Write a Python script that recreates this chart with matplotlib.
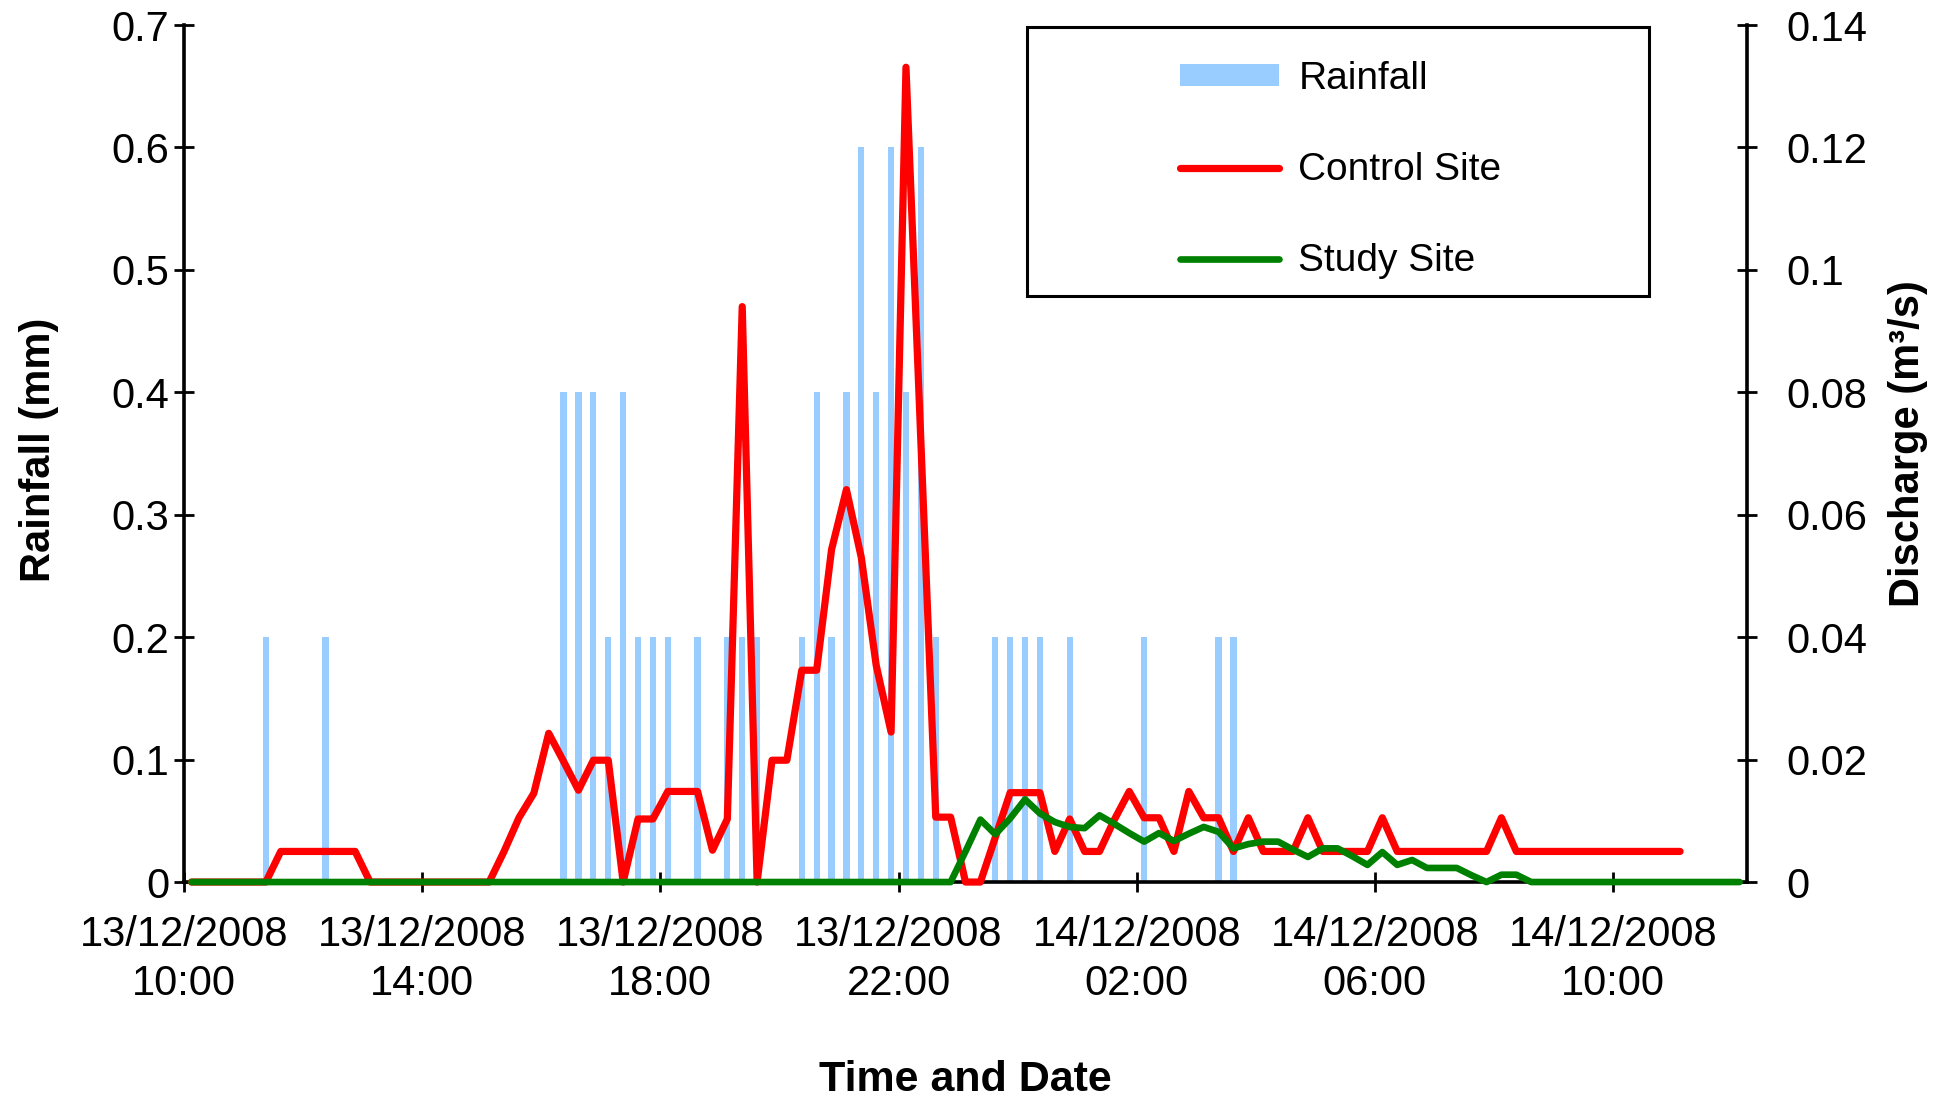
import matplotlib
matplotlib.use('Agg')
import matplotlib.pyplot as plt
import numpy as np
from matplotlib.patches import Rectangle

plt.rcParams['font.family'] = ['Liberation Sans', 'DejaVu Sans']

# Datos cada 15 minutos desde 13/12/2008 10:00 (105 categorias)
tick_labels = ['13/12/2008\n10:00', '13/12/2008\n14:00', '13/12/2008\n18:00',
               '13/12/2008\n22:00', '14/12/2008\n02:00', '14/12/2008\n06:00',
               '14/12/2008\n10:00']

# Lluvia (mm)
rainfall = [
    0, 0, 0, 0, 0, 0.2, 0, 0, 0, 0.2, 0, 0, 0, 0, 0, 0,
    0, 0, 0, 0, 0, 0, 0, 0, 0, 0.4, 0.4, 0.4, 0.2, 0.4, 0.2, 0.2,
    0.2, 0, 0.2, 0, 0.2, 0.2, 0.2, 0, 0, 0.2, 0.4, 0.2, 0.4, 0.6, 0.4, 0.6,
    0.4, 0.6, 0.2, 0, 0, 0, 0.2, 0.2, 0.2, 0.2, 0, 0.2, 0, 0, 0, 0,
    0.2, 0, 0, 0, 0, 0.2, 0.2, 0, 0, 0, 0, 0, 0, 0, 0, 0,
    0, 0, 0, 0, 0, 0, 0, 0, 0, 0, 0, 0, 0, 0, 0, 0,
    0, 0, 0, 0, 0, 0, 0, 0, 0,
]

# Caudal sitio control (m3/s)
control_site = [
    0, 0, 0, 0, 0, 0, 0.005, 0.005, 0.005, 0.005, 0.005, 0.005, 0, 0, 0, 0,
    0, 0, 0, 0, 0, 0.005, 0.0105, 0.0145, 0.0243, 0.0197, 0.015, 0.0199, 0.0199, 0, 0.0103, 0.0103,
    0.0148, 0.0148, 0.0148, 0.0052, 0.0103, 0.094, 0, 0.0199, 0.0199, 0.0346, 0.0346, 0.0543, 0.0641, 0.053, 0.0354, 0.0245,
    0.1331, 0.072, 0.0106, 0.0106, 0, 0, 0.0073, 0.0146, 0.0146, 0.0146, 0.005, 0.0103, 0.005, 0.005, 0.0102, 0.0148,
    0.0105, 0.0105, 0.005, 0.0148, 0.0105, 0.0105, 0.005, 0.0105, 0.005, 0.005, 0.005, 0.0105, 0.005, 0.005, 0.005, 0.005,
    0.0105, 0.005, 0.005, 0.005, 0.005, 0.005, 0.005, 0.005, 0.0105, 0.005, 0.005, 0.005, 0.005, 0.005, 0.005, 0.005,
    0.005, 0.005, 0.005, 0.005, 0.005, np.nan, np.nan, np.nan, np.nan,
]

# Caudal sitio de estudio (m3/s)
study_site = [
    0, 0, 0, 0, 0, 0, 0, 0, 0, 0, 0, 0, 0, 0, 0, 0,
    0, 0, 0, 0, 0, 0, 0, 0, 0, 0, 0, 0, 0, 0, 0, 0,
    0, 0, 0, 0, 0, 0, 0, 0, 0, 0, 0, 0, 0, 0, 0, 0,
    0, 0, 0, 0, 0.005, 0.0102, 0.0078, 0.0104, 0.0135, 0.0112, 0.0098, 0.009, 0.0088, 0.0109, 0.0095, 0.008,
    0.0066, 0.008, 0.0067, 0.0079, 0.009, 0.0082, 0.0055, 0.0062, 0.0066, 0.0066, 0.0053, 0.0041, 0.0055, 0.0055, 0.0042, 0.0028,
    0.0049, 0.0028, 0.0036, 0.0023, 0.0023, 0.0023, 0.0011, 0, 0.0012, 0.0012, 0, 0, 0, 0, 0, 0,
    0, 0, 0, 0, 0, 0, 0, 0, 0,
]

n = len(rainfall)
x = np.arange(n) + 0.5

fig = plt.figure(figsize=(19.47, 11.02), dpi=100)
ax1 = fig.add_axes([0.0945, 0.1996, 0.8028, 0.7777])
ax2 = ax1.twinx()

bars = ax1.bar(x, rainfall, width=0.42, color='#99CCFF', label='Rainfall', zorder=1)
l1, = ax2.plot(x, control_site, color='#FF0000', lw=5.2, label='Control Site',
               clip_on=False, zorder=3, solid_joinstyle='round', solid_capstyle='round')
l2, = ax2.plot(x, study_site, color='#008000', lw=4.8, label='Study Site',
               clip_on=False, zorder=4, solid_joinstyle='round', solid_capstyle='round')

ax1.set_xlim(0, n)
ax1.set_ylim(0, 0.7)
ax2.set_ylim(0, 0.14)

ax1.set_xticks(np.arange(0, n, 16))
ax1.set_xticklabels(tick_labels, linespacing=1.3)
ax1.set_yticks(np.arange(0, 0.71, 0.1))
ax1.set_yticklabels([f'{v:g}' for v in np.arange(0, 0.71, 0.1).round(2)])
ax2.set_yticks(np.arange(0, 0.141, 0.02))
ax2.set_yticklabels([f'{v:g}' for v in np.arange(0, 0.141, 0.02).round(2)])

for s in ['top', 'right']:
    ax1.spines[s].set_visible(False)
for s in ['top', 'left', 'bottom']:
    ax2.spines[s].set_visible(False)
for sp in [ax1.spines['left'], ax1.spines['bottom'], ax2.spines['right']]:
    sp.set_linewidth(2.6)
    sp.set_color('black')

ax1.tick_params(axis='x', direction='inout', length=15, width=2, labelsize=30, pad=16)
ax1.tick_params(axis='y', direction='inout', length=15, width=2, labelsize=30, pad=3)
ax2.tick_params(axis='y', direction='inout', length=15, width=2, labelsize=30, pad=21)

ax1.set_xlabel('Time and Date', fontsize=31, fontweight='bold', va='center')
ax1.xaxis.set_label_coords(0.5, -0.231)
ax1.set_ylabel('Rainfall (mm)', fontsize=30, fontweight='bold', va='center')
ax1.yaxis.set_label_coords(-0.093, 0.504)
ax2.set_ylabel('Discharge (m³/s)', fontsize=30, fontweight='bold', va='center', rotation=90)
ax2.yaxis.set_label_coords(1.103, 0.512)

# Leyenda con recuadro
box = Rectangle((1027 / 1947, 1 - 296 / 1102), 622 / 1947, 269 / 1102,
                transform=fig.transFigure, facecolor='white', edgecolor='black',
                lw=2.2, zorder=5, clip_on=False)
ax2.add_artist(box)
leg = ax2.legend([bars, l1, l2], ['Rainfall', 'Control Site', 'Study Site'],
                 loc='center', bbox_to_anchor=(0.6885, 0.8455), bbox_transform=fig.transFigure,
                 frameon=False, fontsize=28, handlelength=2.55, handletextpad=0.5,
                 labelspacing=1.42, handleheight=0.5)
leg.set_zorder(6)

fig.savefig('out.png', dpi=100)
